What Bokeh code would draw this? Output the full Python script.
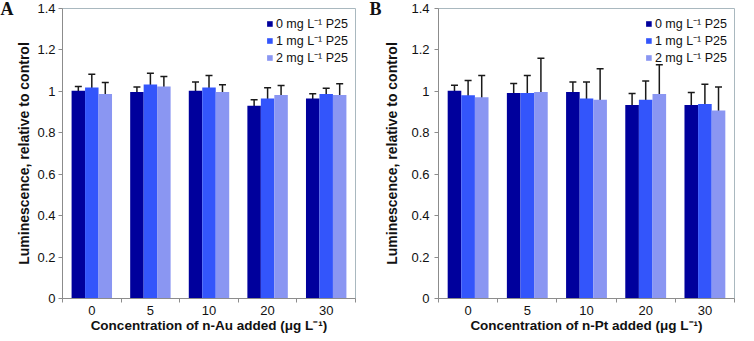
from bokeh.plotting import figure
from bokeh.layouts import row
from bokeh.models import (ColumnDataSource, Whisker, TeeHead, FixedTicker,
                          CustomJSTickFormatter, Label, Range1d)
from bokeh.embed import file_html
from bokeh.resources import INLINE

categories = ["0", "5", "10", "20", "30"]
series_labels = ["0 mg L\u207b\u00b9 P25", "1 mg L\u207b\u00b9 P25", "2 mg L\u207b\u00b9 P25"]
series_colors = ["#00009c", "#3355fb", "#8a96f2"]
y_ticks = [0, 0.2, 0.4, 0.6, 0.8, 1.0, 1.2, 1.4]

# Panel A: n-Au
au_p0 = [1.003, 0.997, 1.003, 0.930, 0.966]
au_p0_err = [0.021, 0.024, 0.042, 0.030, 0.023]
au_p1 = [1.019, 1.033, 1.019, 0.965, 0.987]
au_p1_err = [0.064, 0.055, 0.058, 0.053, 0.028]
au_p2 = [0.987, 1.024, 0.997, 0.982, 0.982]
au_p2_err = [0.056, 0.048, 0.035, 0.046, 0.055]

# Panel B: n-Pt
pt_p0 = [1.003, 0.992, 0.997, 0.934, 0.934]
pt_p0_err = [0.027, 0.046, 0.048, 0.056, 0.060]
pt_p1 = [0.981, 0.992, 0.965, 0.960, 0.939]
pt_p1_err = [0.072, 0.085, 0.080, 0.090, 0.095]
pt_p2 = [0.971, 0.997, 0.960, 0.987, 0.907]
pt_p2_err = [0.106, 0.163, 0.149, 0.142, 0.114]

FONT = "Liberation Sans"
BAR_W = 0.23
OFFSETS = [-BAR_W, 0.0, BAR_W]


def make_panel(letter, xlabel, vals, errs, border_left, border_right, tick_standoff, label_standoff):
    W, H = 369, 335
    top, bottom = 8, 30
    p = figure(width=W, height=H, output_backend="svg", toolbar_location=None,
               x_range=Range1d(-0.5, len(categories) - 0.5), y_range=Range1d(0, 1.4),
               min_border_left=border_left, min_border_right=border_right,
               min_border_top=top, min_border_bottom=bottom)
    p.grid.visible = False
    p.outline_line_color = "#a9b8bf"
    p.outline_line_width = 1
    p.background_fill_color = "white"
    p.border_fill_color = "white"

    idx = list(range(len(categories)))
    for k in range(3):
        xs = [i + OFFSETS[k] for i in idx]
        src = ColumnDataSource(dict(x=xs, top=vals[k],
                                    upper=[v + e for v, e in zip(vals[k], errs[k])],
                                    lower=[v - e for v, e in zip(vals[k], errs[k])]))
        p.vbar(x="x", top="top", width=BAR_W, bottom=0, source=src,
               fill_color=series_colors[k], line_color=None,
               legend_label=series_labels[k])
        w = Whisker(base="x", upper="upper", lower="lower", source=src,
                    line_color="#1a1a1a", line_width=1.5,
                    upper_head=TeeHead(size=7, line_color="#1a1a1a", line_width=1.5),
                    lower_head=TeeHead(size=7, line_color="#1a1a1a", line_width=1.5))
        p.add_layout(w)

    # y axis
    ya = p.yaxis[0]
    ya.ticker = FixedTicker(ticks=y_ticks, minor_ticks=[])
    ya.formatter = CustomJSTickFormatter(code="return String(Math.round(tick*10)/10)")
    ya.axis_label = "Luminescence, relative to control"
    ya.axis_label_text_font = FONT
    ya.axis_label_text_font_style = "bold"
    ya.axis_label_text_font_size = "14px"
    ya.axis_label_text_color = "#111111"
    ya.axis_label_standoff = label_standoff
    ya.major_label_text_font = FONT
    ya.major_label_text_font_size = "13px"
    ya.major_label_text_color = "#111111"
    ya.major_label_standoff = tick_standoff
    ya.axis_line_color = "#8c8c8c"
    ya.major_tick_line_color = "#8c8c8c"
    ya.major_tick_out = 4
    ya.major_tick_in = 0

    # x axis
    xa = p.xaxis[0]
    xa.ticker = FixedTicker(ticks=idx, minor_ticks=[i - 0.5 for i in idx] + [len(idx) - 0.5])
    xa.major_label_overrides = {i: c for i, c in enumerate(categories)}
    xa.axis_label = xlabel
    xa.axis_label_text_font = FONT
    xa.axis_label_text_font_style = "bold"
    xa.axis_label_text_font_size = "13.5px"
    xa.axis_label_text_color = "#111111"
    xa.axis_label_standoff = 0
    xa.major_label_text_font = FONT
    xa.major_label_text_font_size = "13px"
    xa.major_label_text_color = "#111111"
    xa.major_label_standoff = 3
    xa.axis_line_color = "#8c8c8c"
    xa.major_tick_line_color = None
    xa.major_tick_out = 0
    xa.major_tick_in = 0
    xa.minor_tick_line_color = "#8c8c8c"
    xa.minor_tick_out = 4
    xa.minor_tick_in = 0

    # legend
    lg = p.legend[0]
    lg.location = "top_right"
    lg.border_line_color = None
    lg.background_fill_alpha = 0
    lg.label_text_font = FONT
    lg.label_text_font_size = "12.5px"
    lg.label_text_line_height = 0.9
    lg.label_text_color = "#111111"
    lg.glyph_width = 7
    lg.glyph_height = 7
    lg.label_height = 12
    lg.label_standoff = 3
    lg.spacing = 0
    lg.padding = 1
    lg.margin = 7

    lab = Label(x=0, y=1.4, x_units="screen", y_units="data",
                text=letter, text_font="Liberation Serif", text_font_style="bold",
                text_font_size="18px", text_baseline="middle", text_align="left",
                text_color="#111111")
    p.add_layout(lab, "left")
    return p


pa = make_panel("A", "Concentration of n-Au added (\u03bcg L\u207b\u00b9)",
                [au_p0, au_p1, au_p2], [au_p0_err, au_p1_err, au_p2_err], 49, 14, 3, 2)
pb = make_panel("B", "Concentration of n-Pt added (\u03bcg L\u207b\u00b9)",
                [pt_p0, pt_p1, pt_p2], [pt_p0_err, pt_p1_err, pt_p2_err], 66, 4, 5, 8)

layout = row(pa, pb)
open("out.html", "w").write(file_html(layout, INLINE))
